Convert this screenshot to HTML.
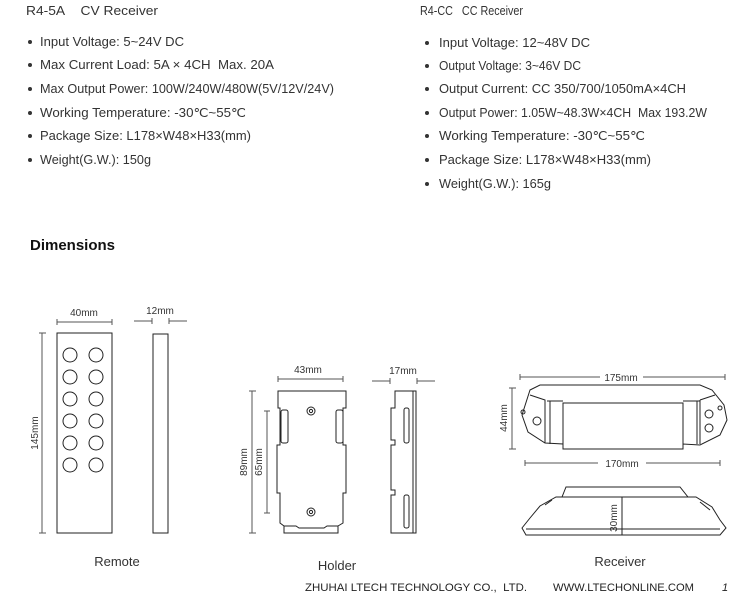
<!DOCTYPE html>
<html><head><meta charset="utf-8"><style>
html,body{margin:0;padding:0;background:#fff;}
svg{display:block;}
text{font-family:"Liberation Sans",sans-serif;fill:#333;}
</style></head><body>
<svg width="744" height="595" viewBox="0 0 744 595" xmlns="http://www.w3.org/2000/svg">
<g font-size="12.5">
<text x="26" y="15" textLength="132" lengthAdjust="spacingAndGlyphs">R4-5A&#160;&#160;&#160;&#160;CV Receiver</text>
<text x="40" y="46" textLength="144" lengthAdjust="spacingAndGlyphs">Input Voltage: 5~24V DC</text>
<text x="40" y="69" textLength="234" lengthAdjust="spacingAndGlyphs">Max Current Load: 5A × 4CH&#160;&#160;Max. 20A</text>
<text x="40" y="93" textLength="294" lengthAdjust="spacingAndGlyphs">Max Output Power: 100W/240W/480W(5V/12V/24V)</text>
<text x="40" y="117" textLength="206" lengthAdjust="spacingAndGlyphs">Working Temperature: -30℃~55℃</text>
<text x="40" y="140" textLength="211" lengthAdjust="spacingAndGlyphs">Package Size: L178×W48×H33(mm)</text>
<text x="40" y="164" textLength="111" lengthAdjust="spacingAndGlyphs">Weight(G.W.): 150g</text>

<text x="420" y="15" textLength="103" lengthAdjust="spacingAndGlyphs">R4-CC&#160;&#160;&#160;CC Receiver</text>
<text x="439" y="47" textLength="151" lengthAdjust="spacingAndGlyphs">Input Voltage: 12~48V DC</text>
<text x="439" y="70" textLength="142" lengthAdjust="spacingAndGlyphs">Output Voltage: 3~46V DC</text>
<text x="439" y="93" textLength="247" lengthAdjust="spacingAndGlyphs">Output Current: CC 350/700/1050mA×4CH</text>
<text x="439" y="117" textLength="268" lengthAdjust="spacingAndGlyphs">Output Power: 1.05W~48.3W×4CH&#160;&#160;Max 193.2W</text>
<text x="439" y="140" textLength="206" lengthAdjust="spacingAndGlyphs">Working Temperature: -30℃~55℃</text>
<text x="439" y="164" textLength="212" lengthAdjust="spacingAndGlyphs">Package Size: L178×W48×H33(mm)</text>
<text x="439" y="188" textLength="112" lengthAdjust="spacingAndGlyphs">Weight(G.W.): 165g</text>
</g>
<g fill="#333">
<circle cx="30" cy="42" r="2"/><circle cx="30" cy="65" r="2"/><circle cx="30" cy="89" r="2"/><circle cx="30" cy="113" r="2"/><circle cx="30" cy="136" r="2"/><circle cx="30" cy="160" r="2"/>
<circle cx="427" cy="43" r="2"/><circle cx="427" cy="66" r="2"/><circle cx="427" cy="89" r="2"/><circle cx="427" cy="113" r="2"/><circle cx="427" cy="136" r="2"/><circle cx="427" cy="160" r="2"/><circle cx="427" cy="184" r="2"/>
</g>
<text x="30" y="250" font-size="15" font-weight="bold" fill="#111" style="fill:#111">Dimensions</text>

<g stroke="#222" fill="none" stroke-width="1">
<rect x="57" y="333" width="55" height="200"/>
<g>
<circle cx="70" cy="355" r="7"/><circle cx="96" cy="355" r="7"/>
<circle cx="70" cy="377" r="7"/><circle cx="96" cy="377" r="7"/>
<circle cx="70" cy="399" r="7"/><circle cx="96" cy="399" r="7"/>
<circle cx="70" cy="421" r="7"/><circle cx="96" cy="421" r="7"/>
<circle cx="70" cy="443" r="7"/><circle cx="96" cy="443" r="7"/>
<circle cx="70" cy="465" r="7"/><circle cx="96" cy="465" r="7"/>
</g>
<rect x="153" y="334" width="15" height="199"/>
</g>
<g stroke="#555" fill="none" stroke-width="1">
<path d="M57 322H112M57 319V325M112 319V325"/>
<path d="M42 333V533M39 333H46M39 533H46"/>
<path d="M134 321H152M152 318V324M169 321H187M169 318V324"/>
<path d="M278 379H343M278 376V382M343 376V382"/>
<path d="M252 391V533M249 391H256M249 533H256"/>
<path d="M267 411V513M264 411H270M264 513H270"/>
<path d="M372 381H390M390 378V384M417 381H435M417 378V384"/>
<path d="M520 377H600M643 377H725M520 374V380M725 374V380"/>
<path d="M512 388V449M509 388H516M509 449H516"/>
<path d="M525 463H598M646 463H720M525 460V466M720 460V466"/>
</g>
<g font-size="10" fill="#444">
<text x="84" y="316" text-anchor="middle">40mm</text>
<text x="160" y="314" text-anchor="middle">12mm</text>
<text x="38" y="433" text-anchor="middle" transform="rotate(-90 38 433)">145mm</text>
<text x="308" y="373" text-anchor="middle">43mm</text>
<text x="403" y="374" text-anchor="middle">17mm</text>
<text x="247" y="462" text-anchor="middle" transform="rotate(-90 247 462)">89mm</text>
<text x="262" y="462" text-anchor="middle" transform="rotate(-90 262 462)">65mm</text>
<text x="621" y="381" text-anchor="middle">175mm</text>
<text x="507" y="418" text-anchor="middle" transform="rotate(-90 507 418)">44mm</text>
<text x="622" y="467" text-anchor="middle">170mm</text>
<text x="617" y="518" text-anchor="middle" transform="rotate(-90 617 518)">30mm</text>
</g>
<g stroke="#222" fill="none" stroke-width="1">
<path d="M278 391H346V408H343V445H346V493H343V523L338 526V533H284V526L280 523V493H277V445H280V408H278Z"/>
<rect x="281" y="410" width="7" height="33" rx="2"/>
<rect x="336" y="410" width="7" height="33" rx="2"/>
<circle cx="311" cy="411" r="4"/><circle cx="311" cy="411" r="1.6"/>
<circle cx="311" cy="512" r="4"/><circle cx="311" cy="512" r="1.6"/>
<path d="M284 526H296L299 528H324L327 526H338"/>
<path d="M395 391H416V533H391V495H395V490H391V445H395V440H391V408H395Z"/>
<line x1="413" y1="391" x2="413" y2="533"/>
<rect x="404" y="408" width="5" height="35" rx="2"/>
<rect x="404" y="495" width="5" height="33" rx="2"/>
<path d="M530 390L540 385H700L712 390L724 405L727 420L720 435L700 445L683 444L683 449L563 449L563 444L545 443L528 432L522 415Z"/>
<path d="M563 403H683V449H563Z"/>
<path d="M547 401L563 401M683 401L700 401M530 395L545 400V443M700 400L715 395M700 400V444"/>
<path d="M550 401V444M697 401V444"/>
<circle cx="537" cy="421" r="4"/><circle cx="709" cy="414" r="4"/><circle cx="709" cy="428" r="4"/>
<circle cx="523" cy="412" r="2"/><circle cx="720" cy="408" r="2"/>
<path d="M566 487H680L688 497H696L712 507L720 520L726 528L720 535H526L522 528L530 518L540 506L556 497H562Z"/>
<path d="M562 497H688M622 497V535M526 529H720"/>
<path d="M552 500L545 505M700 502L710 510"/>
</g>
<g font-size="13" fill="#333">
<text x="117" y="566" text-anchor="middle">Remote</text>
<text x="337" y="570" text-anchor="middle">Holder</text>
<text x="620" y="566" text-anchor="middle">Receiver</text>
</g>
<g font-size="11">
<text x="305" y="591" textLength="222" lengthAdjust="spacingAndGlyphs" style="fill:#222">ZHUHAI LTECH TECHNOLOGY CO.,&#160;&#160;LTD.</text>
<text x="553" y="591" textLength="141" lengthAdjust="spacingAndGlyphs" style="fill:#222">WWW.LTECHONLINE.COM</text>
<text x="722" y="591" font-style="italic" style="fill:#222">1</text>
</g>
</svg>
</body></html>
